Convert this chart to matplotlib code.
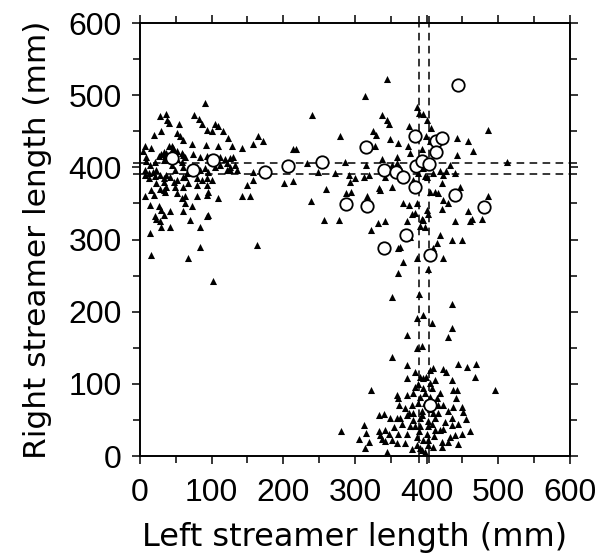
import matplotlib
matplotlib.use("Agg")
import matplotlib.pyplot as plt
from matplotlib.ticker import FixedLocator

# Open circles (x = left streamer, y = right streamer, mm)
circ_x = [44, 74, 102, 175, 207, 254, 316, 288, 317, 340, 357, 367, 384, 385, 393, 403,
          384, 413, 422, 413, 444, 439, 480, 371, 341, 404, 404]
circ_y = [413, 397, 410, 394, 402, 407, 428, 349, 347, 397, 394, 387, 443, 402, 409, 405,
          373, 436, 441, 421, 514, 362, 345, 306, 288, 278, 71]

# Small filled triangles, grouped by region
tri_left = [(91,489),(28,471),(37,474),(76,473),(83,467),(41,462),(38,465),(55,460),(87,460),
    (105,460),(109,457),(93,452),(100,451),(116,451),(19,445),(29,451),(51,447),(56,443),
    (123,441),(60,438),(72,433),(92,431),(109,429),(128,429),(7,429),(16,427),(4,422),
    (40,429),(44,430),(46,427),(33,421),(37,420),(29,419),(26,416),(51,422),(58,420),
    (74,419),(84,415),(60,417),(63,415),(9,415),(8,409),(14,403),(21,407),(33,410),
    (35,416),(52,411),(58,408),(93,416),(98,415),(112,415),(119,411),(126,413),(130,415),
    (121,406),(126,401),(133,403),(135,396),(126,397),(7,396),(12,392),(18,394),(23,396),
    (44,403),(49,396),(60,401),(65,392),(63,387),(79,401),(84,396),(91,399),(95,394),
    (105,401),(111,403),(121,396),(7,390),(12,385),(21,388),(28,390),(33,385),(37,390),
    (42,387),(51,383),(60,387),(79,385),(86,383),(93,385),(100,383),(93,376),(23,378),
    (33,380),(37,373),(47,380),(49,373),(60,373),(67,378),(79,376),(28,370),(33,369),
    (35,366),(51,364),(7,360),(16,369),(19,362),(58,357),(63,360),(79,360),(95,366),
    (93,362),(109,357),(14,348),(26,346),(29,341),(42,339),(63,350),(72,346),(21,332),
    (23,328),(28,325),(30,318),(42,317),(33,334),(60,339),(70,327),(84,317),(93,332),
    (95,334),(14,309),(84,290),(16,279),(67,274),(102,242),(163,293)]

tri_mid = [(143,427),(157,432),(164,444),(171,437),(149,376),(142,360),(154,360),(157,382),
    (214,425),(217,425),(201,378),(213,381),(240,473),(239,353),(260,370),(257,327),
    (277,327),(279,444),(286,408),(272,392),(291,390),(288,365),(295,366),(293,380),
    (314,499),(325,451),(329,445),(328,430),(319,390),(317,360),(322,313),(233,406),
    (249,394),(300,385),(316,403),(312,387),(158,394),(332,323)]

tri_right = [(345,523),(338,473),(344,466),(347,460),(349,439),(360,434),(376,457),(386,484),
    (395,474),(401,466),(406,454),(399,443),(405,436),(419,436),(442,441),(457,437),
    (465,423),(485,452),(512,407),(442,417),(432,403),(427,395),(423,389),(440,392),
    (421,378),(412,366),(423,355),(430,350),(457,339),(463,329),(460,325),(477,329),
    (485,360),(440,325),(435,300),(449,299),(419,306),(423,275),(414,295),(402,259),
    (386,275),(367,269),(360,288),(377,304),(384,337),(386,350),(372,325),(367,350),
    (342,325),(333,371),(335,369),(342,387),(351,403),(358,406),(363,399),(358,415),
    (374,429),(377,420),(400,341),(402,336),(395,327),(398,318),(405,366),(416,365),
    (400,387),(409,392),(395,399),(388,392),(360,253),(351,221),(390,225),(395,195),
    (408,185),(387,191),(435,211),(435,177),(430,165),(372,168),(386,149),(393,152),
    (351,137),(376,348),(380,335),(393,329),(391,319),(422,342),(363,290),(409,288),
    (390,475),(338,411),(393,425),(419,395),(397,388),(351,373),(447,373),(381,383)]

tri_bottom = [(372,126),(384,117),(391,110),(395,108),(399,110),(404,119),(409,122),(423,120),
    (427,117),(444,127),(456,124),(469,127),(467,110),(435,105),(323,91),(373,108),(384,96),
    (395,94),(407,94),(404,101),(437,91),(442,91),(495,91),(358,85),(360,80),(372,85),
    (381,87),(391,82),(405,82),(414,80),(388,73),(398,73),(416,71),(423,71),(441,80),
    (370,66),(379,71),(372,57),(381,59),(393,57),(409,59),(416,59),(437,68),(449,68),
    (451,61),(333,57),(340,58),(349,52),(358,52),(363,52),(381,50),(391,52),(402,48),
    (412,52),(407,45),(435,52),(455,51),(436,43),(444,45),(312,43),(333,34),(335,29),
    (342,36),(347,31),(360,31),(372,31),(377,41),(384,41),(391,41),(402,41),(412,36),
    (419,36),(423,38),(440,29),(449,31),(460,34),(280,34),(306,24),(316,32),(319,20),
    (337,24),(342,21),(344,6),(358,18),(370,18),(386,27),(395,22),(402,22),(421,20),
    (433,27),(444,16),(314,11),(391,11),(393,8),(402,15),(409,13),(421,13),(388,100),
    (398,88),(405,65),(393,62),(400,30),(389,35),(410,28),(398,5),(386,15),(412,105),
    (376,60),(366,45),(426,47),(430,62),(418,88),(362,70),(355,40),(352,22),(380,10),
    (430,20)]

mean_x = [390, 403]
mean_y = [391, 406]
tick_vals = [0, 100, 200, 300, 400, 500, 600]

plt.rcParams['font.family'] = ['Liberation Sans', 'DejaVu Sans']
fig = plt.figure(figsize=(6, 5.6), dpi=100)
ax = fig.add_axes([0.2333, 0.1857, 0.7167, 0.7732])

for grp in (tri_left, tri_mid, tri_right, tri_bottom):
    xs = [p[0] for p in grp]
    ys = [p[1] for p in grp]
    ax.scatter(xs, ys, marker='^', s=26, c='black', linewidths=0, zorder=3)

for v in mean_x:
    ax.axvline(v, color='black', lw=1.1, ls=(0, (5, 3.5)), zorder=2)
for v in mean_y:
    ax.axhline(v, color='black', lw=1.1, ls=(0, (5, 3.5)), zorder=2)

ax.scatter(circ_x, circ_y, marker='o', s=80, facecolors='white', edgecolors='black',
           linewidths=1.3, zorder=4)

ax.set_xlim(0, 600)
ax.set_ylim(0, 600)
ax.xaxis.set_major_locator(FixedLocator(tick_vals))
ax.yaxis.set_major_locator(FixedLocator(tick_vals))
ax.xaxis.set_minor_locator(FixedLocator([50, 150, 250, 350, 450, 550] + mean_x))
ax.yaxis.set_minor_locator(FixedLocator([50, 150, 250, 350, 450, 550] + mean_y))
ax.tick_params(which='both', direction='out', top=True, right=True, width=1.1, color='black')
ax.tick_params(which='major', length=6, labelsize=23, pad=7)
ax.tick_params(which='minor', length=5)
ax.tick_params(axis='x', pad=10)
for sp in ax.spines.values():
    sp.set_linewidth(1.4)

ax.set_xlabel('Left streamer length (mm)', fontsize=23, family=['DejaVu Sans'], labelpad=10)
ax.set_ylabel('Right streamer length (mm)', fontsize=22.5, family=['DejaVu Sans'], labelpad=12)

fig.savefig('out.png', dpi=100)
